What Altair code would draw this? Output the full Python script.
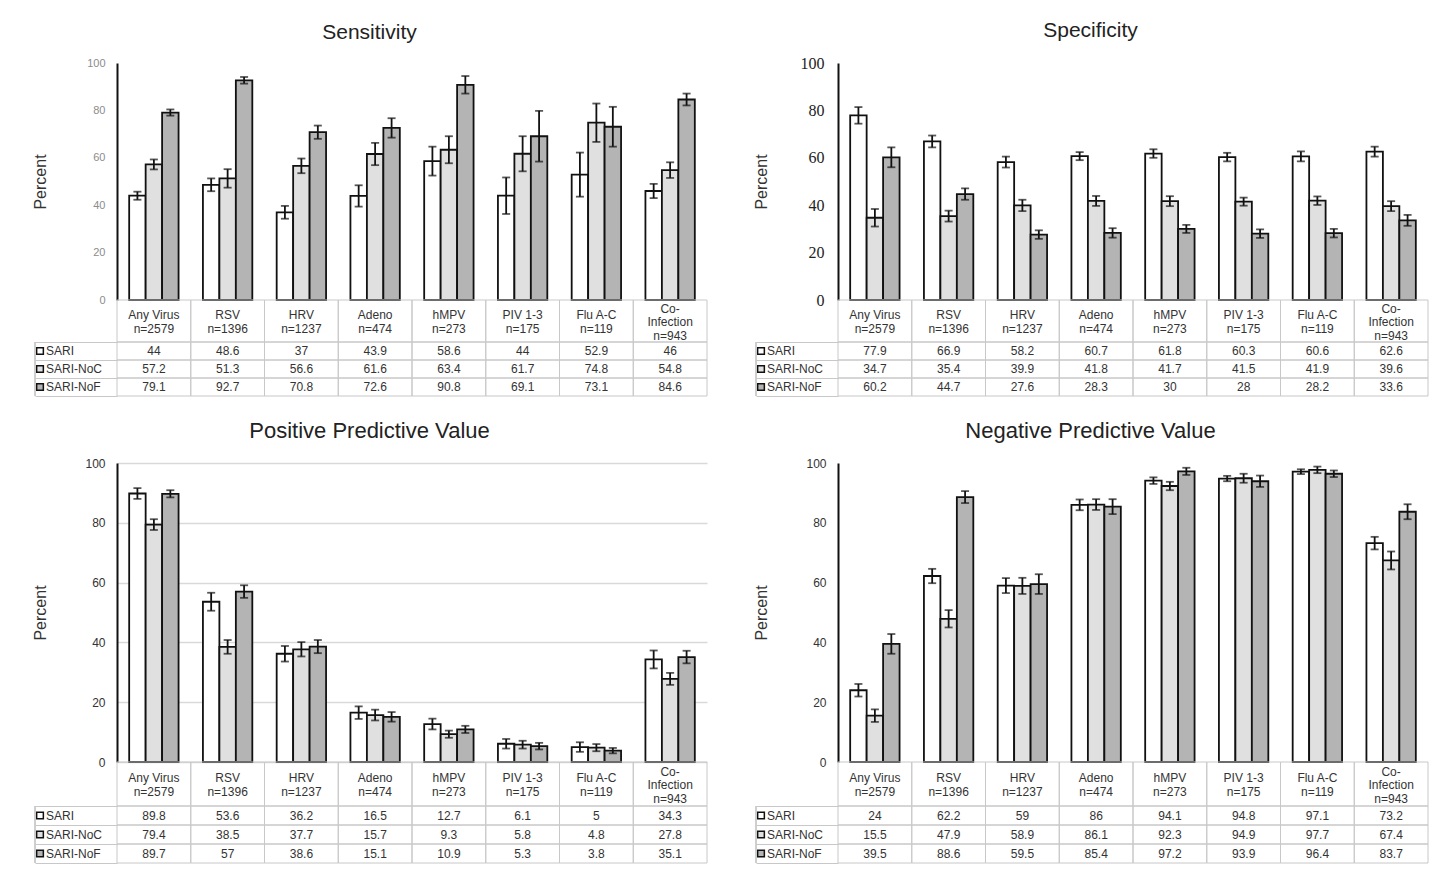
import altair as alt
import pandas as pd

categories = ["Any Virus", "RSV", "HRV", "Adeno", "hMPV", "PIV 1-3", "Flu A-C", "Co-Infection"]
header_lines = ["Any Virus|n=2579", "RSV|n=1396", "HRV|n=1237", "Adeno|n=474", "hMPV|n=273",
                "PIV 1-3|n=175", "Flu A-C|n=119", "Co-|Infection|n=943"]
series = ["SARI", "SARI-NoC", "SARI-NoF"]
fills = ["#ffffff", "#e0e0e0", "#b4b4b4"]

sens_sari = [44, 48.6, 37, 43.9, 58.6, 44, 52.9, 46]
sens_noc = [57.2, 51.3, 56.6, 61.6, 63.4, 61.7, 74.8, 54.8]
sens_nof = [79.1, 92.7, 70.8, 72.6, 90.8, 69.1, 73.1, 84.6]
sens_sari_err = [1.7, 2.7, 2.7, 4.5, 6.1, 7.7, 9.3, 3.0]
sens_noc_err = [2.1, 3.9, 3.1, 4.7, 5.7, 7.4, 8.1, 3.3]
sens_nof_err = [1.3, 1.4, 2.8, 4.1, 3.7, 10.7, 8.4, 2.5]

spec_sari = [77.9, 66.9, 58.2, 60.7, 61.8, 60.3, 60.6, 62.6]
spec_noc = [34.7, 35.4, 39.9, 41.8, 41.7, 41.5, 41.9, 39.6]
spec_nof = [60.2, 44.7, 27.6, 28.3, 30, 28, 28.2, 33.6]
spec_sari_err = [3.5, 2.5, 2.3, 1.7, 1.8, 1.8, 2.1, 2.1]
spec_noc_err = [3.7, 2.3, 2.4, 2.1, 2.1, 1.7, 1.8, 2.1]
spec_nof_err = [4.2, 2.4, 1.8, 2.0, 1.7, 1.8, 1.8, 2.3]

ppv_sari = [89.8, 53.6, 36.2, 16.5, 12.7, 6.1, 5, 34.3]
ppv_noc = [79.4, 38.5, 37.7, 15.7, 9.3, 5.8, 4.8, 27.8]
ppv_nof = [89.7, 57, 38.6, 15.1, 10.9, 5.3, 3.8, 35.1]
ppv_sari_err = [1.8, 3.0, 2.6, 2.1, 1.8, 1.6, 1.6, 3.0]
ppv_noc_err = [1.8, 2.3, 2.4, 1.8, 1.2, 1.3, 1.2, 2.0]
ppv_nof_err = [1.2, 2.1, 2.2, 1.6, 1.2, 1.1, 0.9, 2.1]

npv_sari = [24, 62.2, 59, 86, 94.1, 94.8, 97.1, 73.2]
npv_noc = [15.5, 47.9, 58.9, 86.1, 92.3, 94.9, 97.7, 67.4]
npv_nof = [39.5, 88.6, 59.5, 85.4, 97.2, 93.9, 96.4, 83.7]
npv_sari_err = [2.1, 2.4, 2.5, 1.8, 1.1, 0.9, 0.8, 2.1]
npv_noc_err = [2.1, 2.9, 2.7, 1.8, 1.4, 1.5, 1.1, 3.0]
npv_nof_err = [3.3, 2.0, 3.3, 2.5, 1.2, 1.9, 1.1, 2.5]

FONT = "Liberation Sans"
GRID = "#c8c8c8"
W = 590
LH = 13.5


def make_df(vals, errs):
    rows = []
    for s, v_list, e_list in zip(series, vals, errs):
        for i, key in enumerate(header_lines):
            v = v_list[i]
            e = e_list[i]
            rows.append({"key": key, "category": categories[i], "series": s,
                         "value": v, "lo": v - e, "hi": v + e})
    return pd.DataFrame(rows)


def make_panel(title, title_size, vals, errs, plot_h, hdr_h, row_h, ystyle, grid):
    df = make_df(vals, errs)
    color = alt.Color("series:N", sort=series,
                      scale=alt.Scale(domain=series, range=fills), legend=None)
    x = alt.X("key:N", sort=header_lines,
              scale=alt.Scale(paddingInner=0, paddingOuter=0), axis=None)
    xk = alt.X("key:N", sort=header_lines)
    xo = alt.XOffset("series:N", sort=series,
                     scale=alt.Scale(paddingInner=0, paddingOuter=0.74))
    xok = alt.XOffset("series:N", sort=series)
    yaxis = alt.Axis(values=[0, 20, 40, 60, 80, 100], title="Percent", titleFont=FONT,
                     titleFontSize=16, titleFontWeight="normal", titleColor="#333",
                     titleX=-77, titleY=plot_h / 2, titleAlign="center", titleBaseline="middle",
                     labelFont=ystyle["font"], labelFontSize=ystyle["size"],
                     labelColor=ystyle["color"], labelPadding=ystyle["pad"],
                     ticks=False, domainColor="#111", domainWidth=2,
                     grid=grid, gridColor="#d9d9d9", gridWidth=1.5)
    y = alt.Y("value:Q", scale=alt.Scale(domain=[0, 100]), axis=yaxis)
    base = alt.Chart(df)
    bars = base.mark_bar(stroke="#111", strokeWidth=1.8).encode(x=x, xOffset=xo, y=y, fill=color)
    rule = base.mark_rule(color="#111", strokeWidth=1.8).encode(
        x=xk, xOffset=xok, y="lo:Q", y2="hi:Q")
    tick_lo = base.mark_tick(color="#111", thickness=1.8, size=8).encode(
        x=xk, xOffset=xok, y="lo:Q")
    tick_hi = base.mark_tick(color="#111", thickness=1.8, size=8).encode(
        x=xk, xOffset=xok, y="hi:Q")
    top = alt.layer(bars, rule, tick_lo, tick_hi).properties(
        width=W, height=plot_h,
        title=alt.TitleParams(title, font=FONT, fontSize=title_size, fontWeight="normal",
                              color="#222", offset=14, anchor="middle", frame="bounds"))

    # header row (category names)
    hdr_df = pd.DataFrame({"key": header_lines})
    hbase = alt.Chart(hdr_df).transform_calculate(
        lines="split(datum.key, '|')", nl="length(split(datum.key, '|'))")
    hx = alt.X("key:N", sort=header_lines, scale=alt.Scale(paddingInner=0, paddingOuter=0),
               axis=None)
    hcells = hbase.mark_rect(fill="transparent", stroke=GRID, strokeWidth=1).encode(x=hx)
    htext = []
    for n in (2, 3):
        htext.append(
            hbase.transform_filter(f"datum.nl == {n}").mark_text(
                font=FONT, fontSize=12, color="#333", baseline="middle",
                lineHeight=LH, dy=-(n - 1) * LH / 2 + 1).encode(
                x=hx, y=alt.value(hdr_h / 2), text="lines:N"))
    header = alt.layer(hcells, *htext).properties(width=W, height=hdr_h)

    # data table
    table_h = 3 * row_h
    tx = alt.X("key:N", sort=header_lines, scale=alt.Scale(paddingInner=0, paddingOuter=0),
               axis=None)
    ty = alt.Y("series:N", sort=series, scale=alt.Scale(paddingInner=0, paddingOuter=0),
               axis=alt.Axis(title=None, labels=False, domain=False, ticks=True,
                             tickBand="extent", tickSize=82, tickColor=GRID, tickWidth=1))
    cells = base.mark_rect(fill="transparent", stroke=GRID, strokeWidth=1).encode(x=tx, y=ty)
    txt = base.mark_text(font=FONT, fontSize=12, color="#333").encode(
        x=tx, y=ty, text=alt.Text("value:Q", format=".1~f"))
    rows_df = pd.DataFrame({"series": series})
    rbase = alt.Chart(rows_df)
    swatch = rbase.mark_square(size=45, stroke="#111", strokeWidth=1.5, opacity=1).encode(
        x=alt.value(-77), y=alt.Y("series:N", sort=series), fill=color)
    rlab = rbase.mark_text(font=FONT, fontSize=12, color="#333", align="left").encode(
        x=alt.value(-71), y=alt.Y("series:N", sort=series), text="series:N")
    lborder = rbase.mark_rule(color=GRID, strokeWidth=1).encode(
        x=alt.value(-82), y=alt.value(0), y2=alt.value(table_h))
    table = alt.layer(cells, txt, swatch, rlab, lborder).properties(width=W, height=table_h)
    return alt.vconcat(top, header, table, spacing=0, bounds="flush")


sans_small = {"font": FONT, "size": 11, "color": "#8c8c8c", "pad": 12}
serif_big = {"font": "Liberation Serif", "size": 16, "color": "#222", "pad": 14}
sans_mid = {"font": FONT, "size": 12, "color": "#333", "pad": 12}

sens = make_panel("Sensitivity", 21, [sens_sari, sens_noc, sens_nof],
                  [sens_sari_err, sens_noc_err, sens_nof_err], 237, 42, 18, sans_small, False)
spec = make_panel("Specificity", 21, [spec_sari, spec_noc, spec_nof],
                  [spec_sari_err, spec_noc_err, spec_nof_err], 237, 42, 18, serif_big, False)
ppv = make_panel("Positive Predictive Value", 22, [ppv_sari, ppv_noc, ppv_nof],
                 [ppv_sari_err, ppv_noc_err, ppv_nof_err], 299, 44, 19, sans_mid, True)
npv = make_panel("Negative Predictive Value", 22, [npv_sari, npv_noc, npv_nof],
                 [npv_sari_err, npv_noc_err, npv_nof_err], 299, 44, 19, sans_mid, False)

chart = alt.vconcat(
    alt.hconcat(sens, spec, spacing=45),
    alt.hconcat(ppv, npv, spacing=45),
    spacing=23,
).properties(
    padding={"left": 24, "top": 12, "right": 5, "bottom": 0}
).configure_view(strokeWidth=0)

chart.save("out.html", embed_options={"renderer": "svg", "actions": False})
